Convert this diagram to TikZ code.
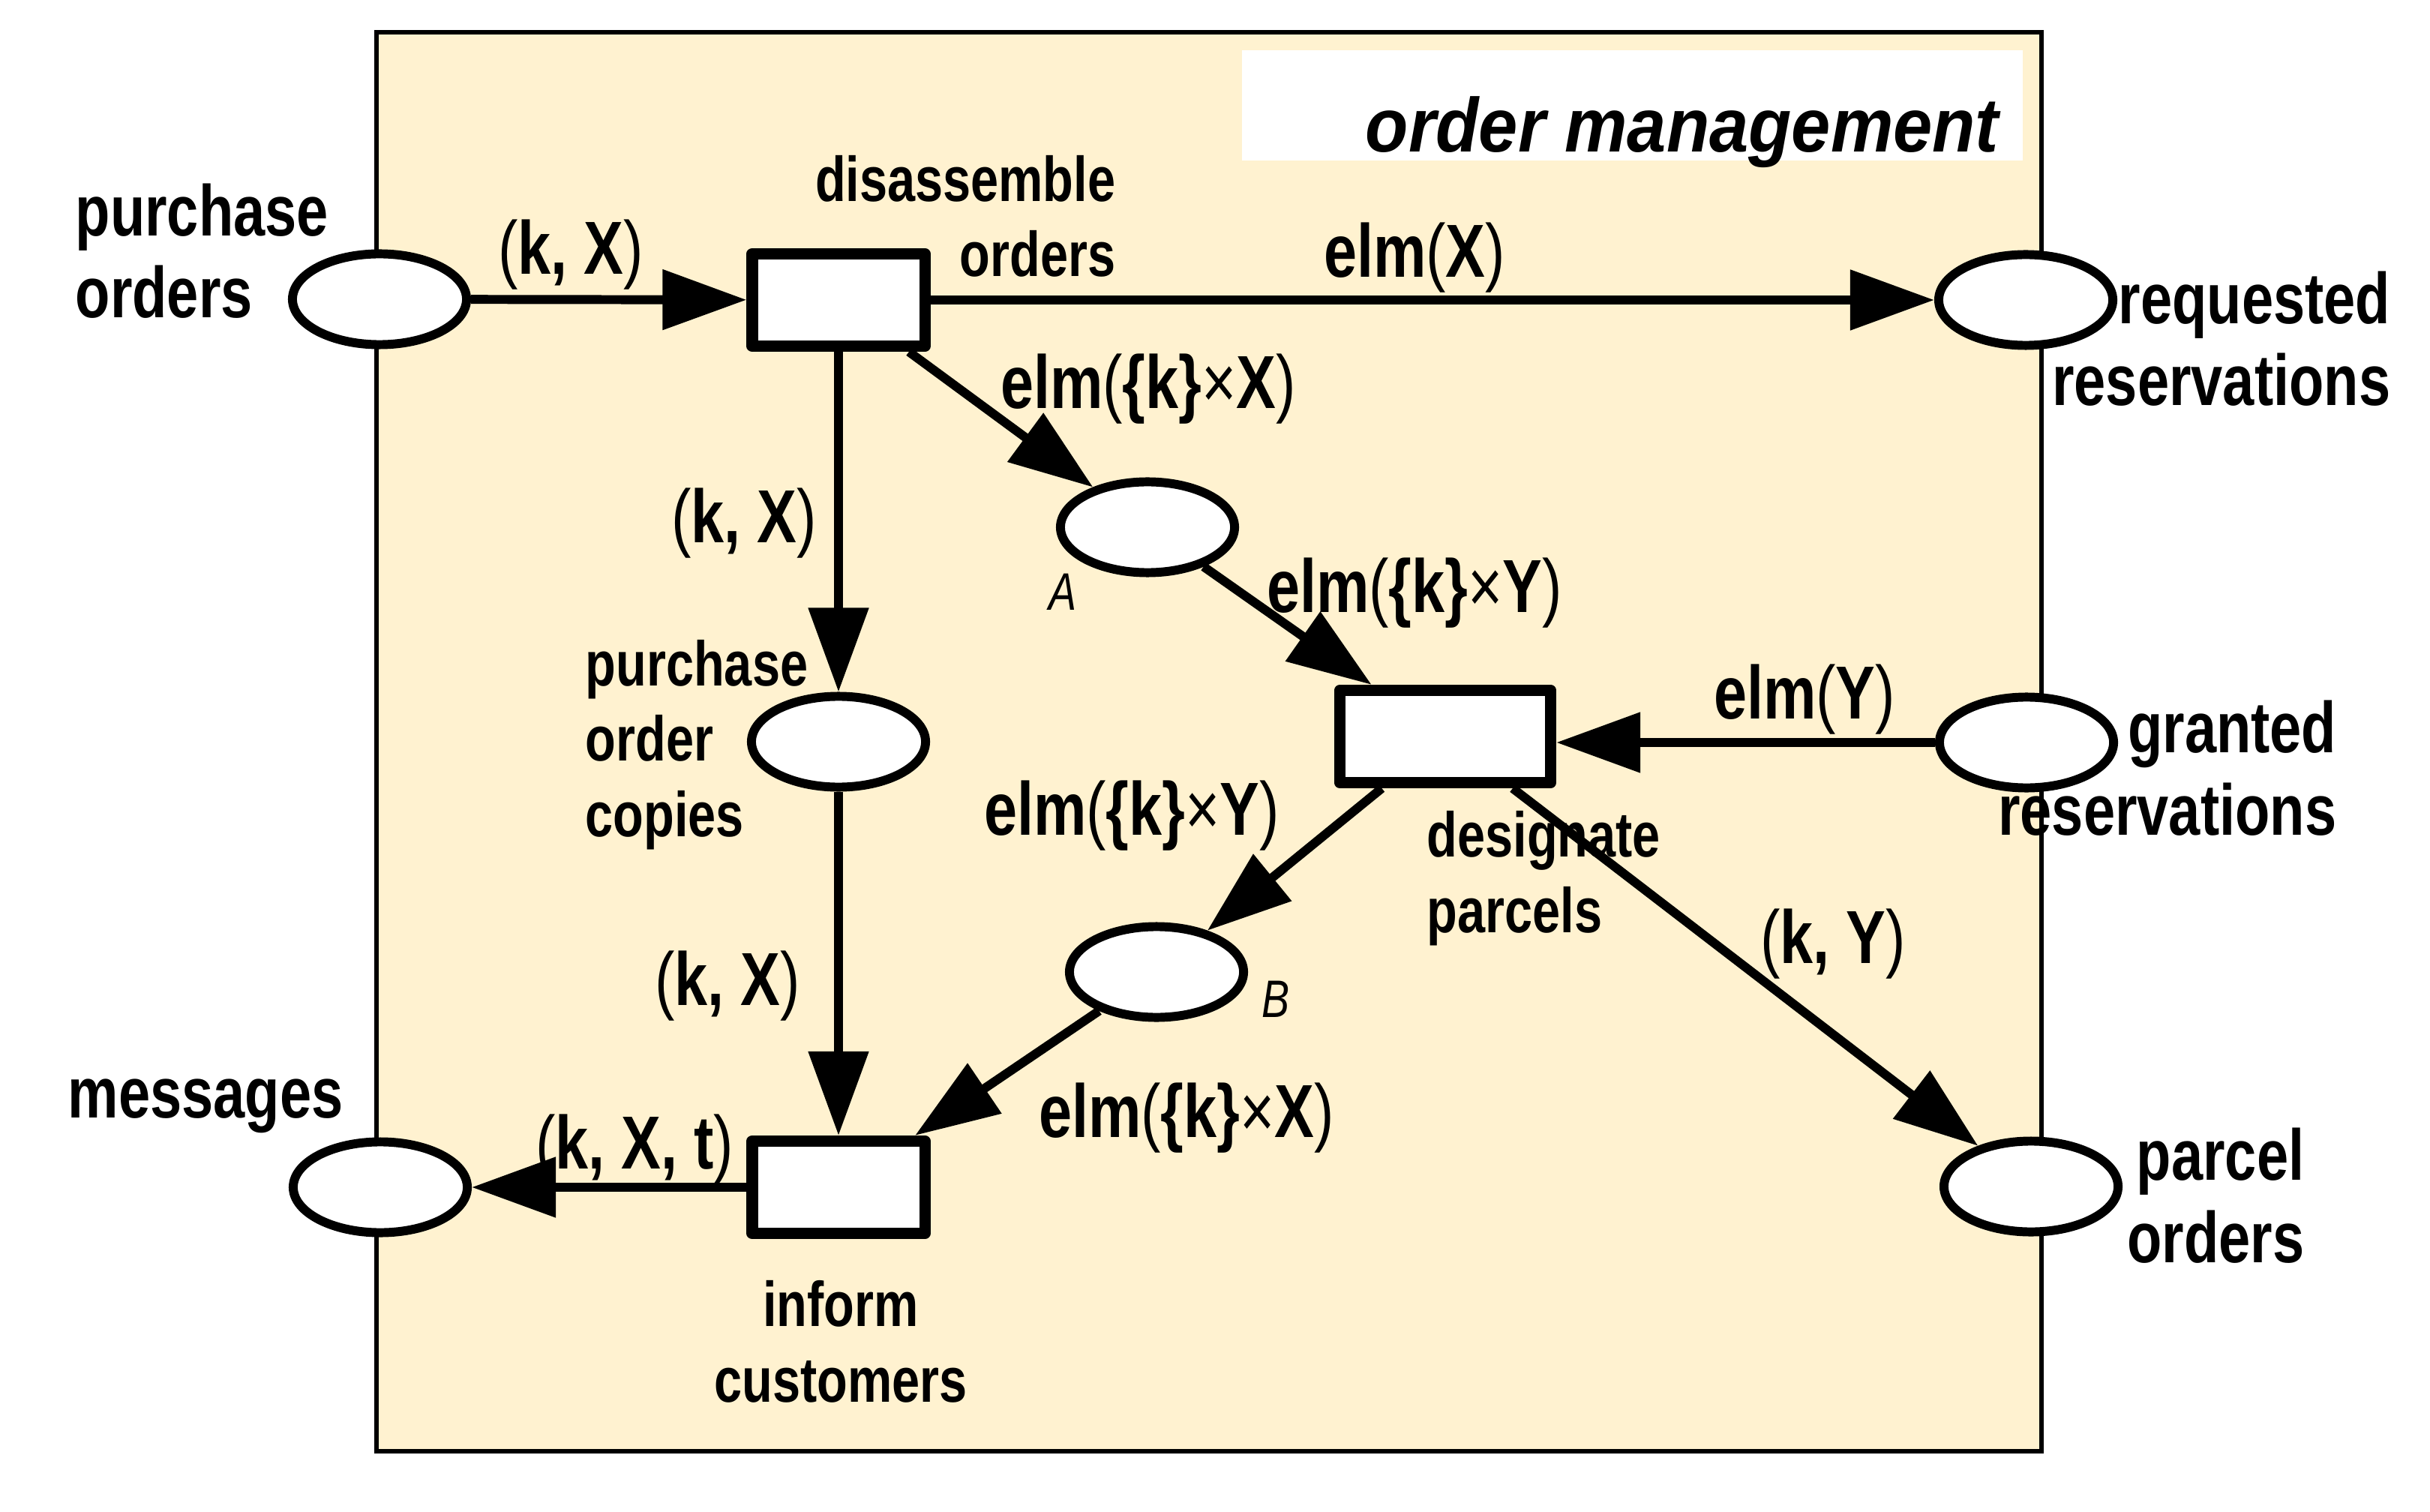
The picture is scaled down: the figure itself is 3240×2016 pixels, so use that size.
\documentclass[tikz,border=0pt]{standalone}
\usepackage{fontspec}
\setmainfont{Liberation Sans}[FakeStretch=0.79]
\newfontfamily\titlefont{Liberation Sans}[FakeStretch=0.92]
\usetikzlibrary{shapes.geometric,arrows.meta,calc}
\definecolor{bgyellow}{RGB}{255,242,208}
\newcommand\rg[1]{{\mdseries #1}}
\begin{document}
\begin{tikzpicture}[x=0.01cm,y=-0.01cm,
  place/.style={ellipse,draw,fill=white,line width=3.4pt,minimum width=2.32cm,minimum height=1.21cm,inner sep=0pt},
  trans/.style={rectangle,draw,fill=white,line width=4.3pt,minimum width=2.30cm,minimum height=1.23cm,inner sep=0pt,line join=round},
  arc/.style={line width=3.4pt,-{Triangle[length=1.12cm,width=0.78cm]}},
  outerlbl/.style={inner sep=0pt,font=\fontsize{27.3}{31}\selectfont\bfseries},
  innerlbl/.style={inner sep=0pt,font=\fontsize{24}{28.5}\selectfont\bfseries},
  arclbl/.style={inner sep=0pt,anchor=base,font=\fontsize{28.5}{32}\selectfont\bfseries},
  tokenlbl/.style={inner sep=0pt,font=\fontsize{20}{24}\selectfont\itshape}]
\useasboundingbox (0,0) rectangle (3240,2016);
% frame
\node (frame) [draw,line width=1.7pt,fill=bgyellow,anchor=north west,minimum width=22.19cm,minimum height=18.91cm,inner sep=0pt,outer sep=0pt] at (502,43) {};
\node (titlebox) [fill=white,anchor=north west,minimum width=10.41cm,minimum height=1.47cm,inner sep=0pt] at (1655,66) {};
\node (title) [anchor=base east,inner sep=0pt,font=\titlefont\fontsize{29}{34}\selectfont\bfseries\itshape] at (2666,203) {order management};
% places
\node (po)  [place] at (506,399) {};
\node (rr)  [place] at (2701,400) {};
\node (gr)  [place] at (2702,990) {};
\node (pco) [place] at (2708,1582) {};
\node (msg) [place] at (507,1583) {};
\node (A)   [place] at (1530,703) {};
\node (poc) [place] at (1118,989) {};
\node (B)   [place] at (1542,1296) {};
% transitions
\node (dis) [trans] at (1118,400) {};
\node (des) [trans,minimum width=2.81cm] at (1927,982) {};
\node (inf) [trans] at (1118,1583) {};
% arcs
\draw[arc] (po) -- (dis);
\draw[arc] (dis) -- (rr);
\draw[arc] (dis) -- (A);
\draw[arc] (dis) -- (poc);
\draw[arc] (A) -- (des);
\draw[arc] (gr) -- (gr -| des.east);
\draw[arc] (des) -- (B);
\draw[arc] (des) -- (pco);
\draw[arc] (poc) -- (inf);
\draw[arc] (B) -- (inf);
\draw[arc] (inf) -- (msg);
% node labels (base anchor = baseline of the last line)
\node (lpo) [outerlbl,anchor=base west,align=left] at (100,424) {purchase\\orders};
\node (lrr) [outerlbl,anchor=base east,align=right] at (3188,541) {requested\\reservations};
\node (lgr) [outerlbl,anchor=base east,align=right] at (3116,1113) {granted\\reservations};
\node (lpco) [outerlbl,anchor=base east,align=right] at (3073,1683) {parcel\\orders};
\node (lmsg) [outerlbl,anchor=base west] at (90,1490) {messages};
\node (ldis) [innerlbl,anchor=base east,align=right] at (1488,369) {disassemble\\orders};
\node (lpoc) [innerlbl,anchor=base west,align=left] at (780,1115) {purchase\\order\\copies};
\node (ldes) [innerlbl,anchor=base west,align=left] at (1902,1243) {designate\\parcels};
\node (linf) [innerlbl,anchor=base,align=center] at (1121,1869) {inform\\customers};
\node (lA) [tokenlbl] at (1417,789) {A};
\node (lB) [tokenlbl] at (1701,1332) {B};
% arc labels
\node (a1) [arclbl] at (761,366) {\rg{(}k, X\rg{)}};
\node (a2) [arclbl] at (1886,370) {elm\rg{(}X\rg{)}};
\node (a3) [arclbl] at (1531,545) {elm\rg{(}\{k\}\rg{×}X\rg{)}};
\node (a4) [arclbl] at (992,724) {\rg{(}k, X\rg{)}};
\node (a5) [arclbl] at (1886,817) {elm\rg{(}\{k\}\rg{×}Y\rg{)}};
\node (a6) [arclbl] at (2406,958) {elm\rg{(}Y\rg{)}};
\node (a7) [arclbl] at (1509,1113) {elm\rg{(}\{k\}\rg{×}Y\rg{)}};
\node (a8) [arclbl] at (2444,1284) {\rg{(}k, Y\rg{)}};
\node (a9) [arclbl] at (970,1340) {\rg{(}k, X\rg{)}};
\node (a10) [arclbl] at (1582,1516) {elm\rg{(}\{k\}\rg{×}X\rg{)}};
\node (a11) [arclbl] at (846,1558) {\rg{(}k, X, t\rg{)}};
\end{tikzpicture}
\end{document}
